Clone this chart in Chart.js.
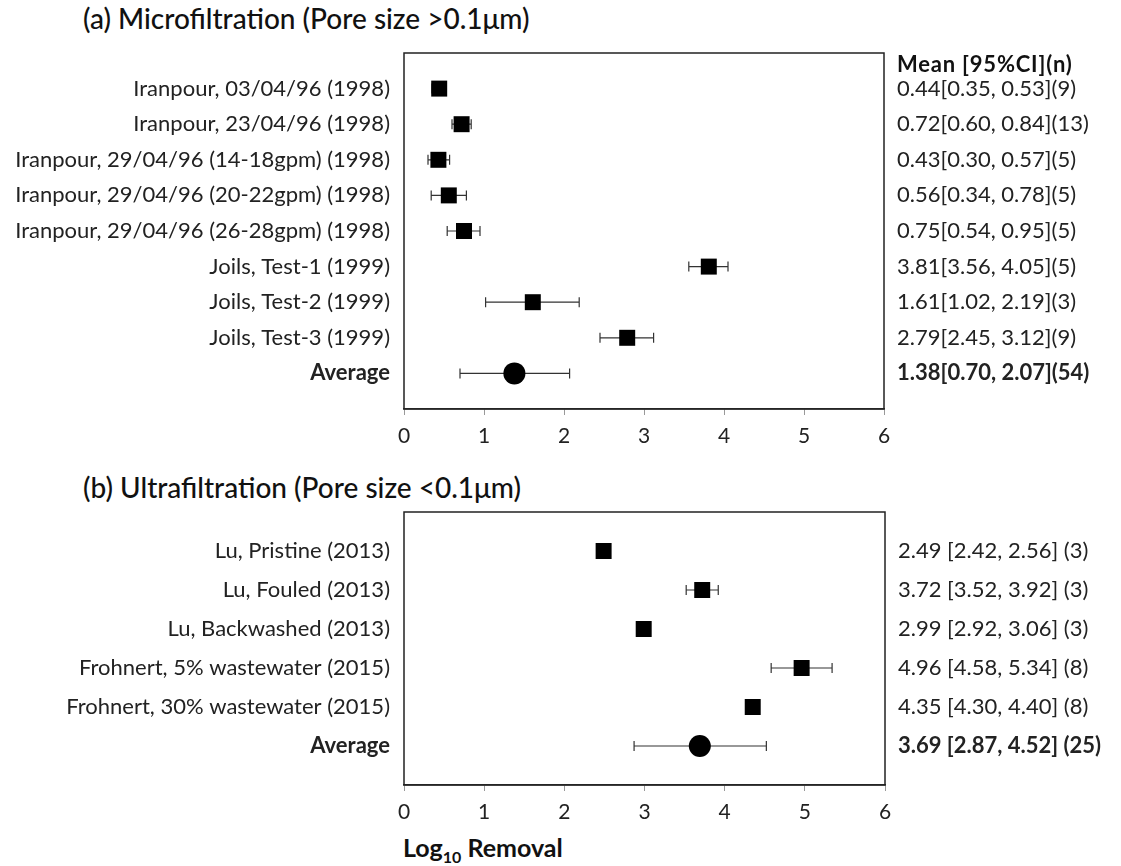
<!DOCTYPE html>
<html>
<head>
<meta charset="utf-8">
<script src="https://cdn.jsdelivr.net/npm/chart.js@4.4.0/dist/chart.umd.min.js"></script>
<style>
body { margin: 0; background: #fff; width: 1121px; height: 866px; overflow: hidden; font-family: Lato, "Noto Sans", sans-serif; color: #111; }
.panel { position: absolute; left: 0; width: 1121px; }
.ttl { position: absolute; left: 83px; font-size: 28px; line-height: 36px; font-weight: 500; white-space: nowrap; }
#xlab { position: absolute; left: 403px; top: 831px; font-size: 25px; line-height: 32px; font-weight: 700; white-space: nowrap; }
#xlab sub { font-size: 16px; }
</style>
</head>
<body>
<div class="ttl" style="top:0px">(a) Microfiltration (Pore size &gt;0.1μm)</div>
<div class="panel" style="top:40px;height:420px"><canvas id="chartA"></canvas></div>
<div class="ttl" style="top:469px">(b) Ultrafiltration (Pore size &lt;0.1μm)</div>
<div class="panel" style="top:500px;height:330px"><canvas id="chartB"></canvas></div>
<div id="xlab">Log<sub>10</sub> Removal</div>
<script>
// (a) microfiltration
var studiesA = ['Iranpour, 03/04/96 (1998)', 'Iranpour, 23/04/96 (1998)', 'Iranpour, 29/04/96 (14-18gpm) (1998)',
  'Iranpour, 29/04/96 (20-22gpm) (1998)', 'Iranpour, 29/04/96 (26-28gpm) (1998)',
  'Joils, Test-1 (1999)', 'Joils, Test-2 (1999)', 'Joils, Test-3 (1999)', 'Average'];
var meanA = [0.44, 0.72, 0.43, 0.56, 0.75, 3.81, 1.61, 2.79, 1.38];
var lowA  = [0.35, 0.60, 0.30, 0.34, 0.54, 3.56, 1.02, 2.45, 0.70];
var highA = [0.53, 0.84, 0.57, 0.78, 0.95, 4.05, 2.19, 3.12, 2.07];
var nA    = [9, 13, 5, 5, 5, 5, 3, 9, 54];

// (b) ultrafiltration
var studiesB = ['Lu, Pristine (2013)', 'Lu, Fouled (2013)', 'Lu, Backwashed (2013)',
  'Frohnert, 5% wastewater (2015)', 'Frohnert, 30% wastewater (2015)', 'Average'];
var meanB = [2.49, 3.72, 2.99, 4.96, 4.35, 3.69];
var lowB  = [2.42, 3.52, 2.92, 4.58, 4.30, 2.87];
var highB = [2.56, 3.92, 3.06, 5.34, 4.40, 4.52];
var nB    = [3, 3, 3, 8, 8, 25];

var xTicks = [0, 1, 2, 3, 4, 5, 6];

var FONT = 'Lato, "Noto Sans", sans-serif';

// whiskers drawn under the markers
var errorBars = {
  id: 'errorBars',
  beforeDatasetsDraw: function(chart) {
    var ctx = chart.ctx, xs = chart.scales.x, ys = chart.scales.y;
    ctx.save();
    ctx.strokeStyle = '#333';
    ctx.lineWidth = 1.2;
    chart.data.datasets.forEach(function(ds) {
      ds.data.forEach(function(p) {
        var y = ys.getPixelForValue(p.y);
        var x1 = xs.getPixelForValue(p.lo), x2 = xs.getPixelForValue(p.hi);
        ctx.beginPath();
        ctx.moveTo(x1, y); ctx.lineTo(x2, y);
        ctx.moveTo(x1, y - 5); ctx.lineTo(x1, y + 5);
        ctx.moveTo(x2, y - 5); ctx.lineTo(x2, y + 5);
        ctx.stroke();
      });
    });
    ctx.restore();
  }
};

var frame = {
  id: 'frame',
  afterDraw: function(chart) {
    var a = chart.chartArea, ctx = chart.ctx;
    ctx.save();
    ctx.strokeStyle = '#222';
    ctx.lineWidth = 1.5;
    ctx.strokeRect(a.left, a.top, a.right - a.left, a.bottom - a.top);
    var hdr = chart.options.plugins.frame.header;
    if (hdr) {
      ctx.fillStyle = '#111';
      ctx.font = 'bold 22px ' + FONT;
      ctx.letterSpacing = '0.8px';
      ctx.textBaseline = 'middle';
      ctx.fillText(hdr, a.right + 13, chart.scales.y.getPixelForValue(1) - 24);
    }
    ctx.restore();
  }
};

function makePoints(mean, low, high, from, to) {
  var pts = [];
  for (var i = from; i < to; i++) pts.push({ x: mean[i], y: i + 1, lo: low[i], hi: high[i] });
  return pts;
}

function fmtA(i) {
  return meanA[i].toFixed(2) + '[' + lowA[i].toFixed(2) + ', ' + highA[i].toFixed(2) + '](' + nA[i] + ')';
}
function fmtB(i) {
  return meanB[i].toFixed(2) + ' [' + lowB[i].toFixed(2) + ', ' + highB[i].toFixed(2) + '] (' + nB[i] + ')';
}

function forest(id, names, mean, low, high, fmt, opts) {
  var last = names.length - 1;
  var rowFont = function(c) {
    return { family: FONT, size: 22, weight: c.tick && c.tick.value === last + 1 ? 'bold' : 'normal' };
  };
  var rowTicks = function(s) { s.ticks = names.map(function(n, i) { return { value: i + 1 }; }); };
  return new Chart(document.getElementById(id), {
    type: 'scatter',
    data: {
      datasets: [{
        data: makePoints(mean, low, high, 0, last),
        pointStyle: 'rect', radius: 11.3, backgroundColor: '#000', borderWidth: 0
      }, {
        data: makePoints(mean, low, high, last, last + 1),
        pointStyle: 'circle', radius: 11, backgroundColor: '#000', borderWidth: 0
      }]
    },
    options: {
      responsive: true,
      maintainAspectRatio: false,
      animation: false,
      layout: { padding: { top: opts.padTop, left: 0, right: 0, bottom: 0 } },
      plugins: { legend: { display: false }, tooltip: { enabled: false }, frame: { header: opts.header } },
      scales: {
        x: {
          type: 'linear', min: xTicks[0], max: xTicks[xTicks.length - 1],
          afterBuildTicks: function(s) { s.ticks = xTicks.map(function(v) { return { value: v }; }); },
          afterFit: function(s) { s.height = opts.xHeight; },
          grid: { drawOnChartArea: false, drawTicks: true, tickLength: 6, color: '#999' },
          border: { color: '#333', width: 1.5 },
          ticks: { color: '#222', padding: 9, font: { family: FONT, size: 21 } }
        },
        y: {
          type: 'linear', reverse: true, min: 0, max: names.length + 1, position: 'left',
          afterBuildTicks: rowTicks,
          afterFit: function(s) { s.width = 404; s.paddingTop = 0; s.paddingBottom = 0; },
          grid: { display: false, drawTicks: false }, border: { display: false },
          ticks: { autoSkip: false, padding: 14, color: '#222', font: rowFont,
            callback: function(v) { return names[v - 1] || ''; } }
        },
        y2: {
          type: 'linear', reverse: true, min: 0, max: names.length + 1, position: 'right',
          afterBuildTicks: rowTicks,
          afterFit: function(s) { s.width = opts.rightWidth; s.paddingTop = 0; s.paddingBottom = 0; },
          grid: { display: false, drawTicks: false }, border: { display: false },
          ticks: { autoSkip: false, padding: 13, color: '#222', font: rowFont,
            callback: function(v) { return names[v - 1] ? fmt(v - 1) : ''; } }
        }
      }
    },
    plugins: [errorBars, frame]
  });
}

forest('chartA', studiesA, meanA, lowA, highA, fmtA, { padTop: 13, xHeight: 51, rightWidth: 237, header: 'Mean [95%CI](n)' });
forest('chartB', studiesB, meanB, lowB, highB, fmtB, { padTop: 12, xHeight: 45, rightWidth: 236, header: '' });
</script>
</body>
</html>
